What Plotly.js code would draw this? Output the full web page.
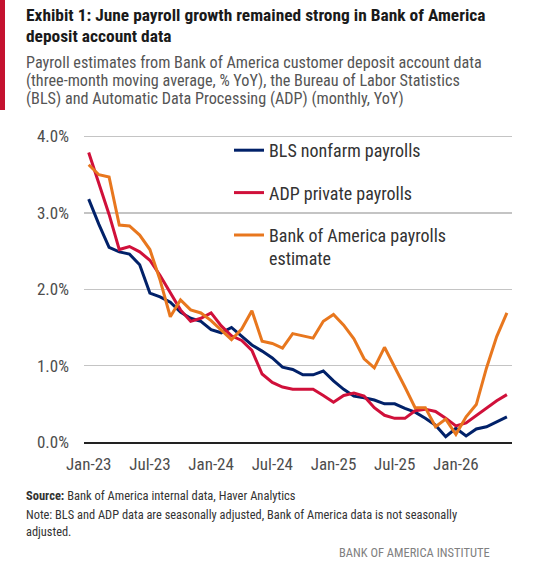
<!DOCTYPE html>
<html>
<head>
<meta charset="utf-8">
<script src="https://cdn.plot.ly/plotly-3.0.1.min.js"></script>
<style>
  html, body { margin: 0; padding: 0; background: #fff; }
  #chart { width: 550px; height: 566px; }
</style>
</head>
<body>
<div id="chart"></div>
<script>
// ---- Data ----
const months = [
  'Jan-23','Feb-23','Mar-23','Apr-23','May-23','Jun-23','Jul-23','Aug-23','Sep-23','Oct-23','Nov-23','Dec-23',
  'Jan-24','Feb-24','Mar-24','Apr-24','May-24','Jun-24','Jul-24','Aug-24','Sep-24','Oct-24','Nov-24','Dec-24',
  'Jan-25','Feb-25','Mar-25','Apr-25','May-25','Jun-25','Jul-25','Aug-25','Sep-25','Oct-25','Nov-25','Dec-25',
  'Jan-26','Feb-26','Mar-26','Apr-26','May-26','Jun-26'
];
const blsNonfarm = [
  3.18, 2.85, 2.55, 2.49, 2.46, 2.32, 1.95, 1.90, 1.83, 1.70, 1.62, 1.58,
  1.47, 1.43, 1.50, 1.38, 1.27, 1.19, 1.10, 0.98, 0.95, 0.88, 0.88, 0.93,
  0.80, 0.69, 0.60, 0.58, 0.55, 0.50, 0.50, 0.44, 0.39, 0.31, 0.22, 0.07,
  0.18, 0.08, 0.17, 0.20, 0.27, 0.33
];
const adpPrivate = [
  3.79, 3.38, 2.98, 2.52, 2.56, 2.49, 2.38, 2.18, 1.95, 1.73, 1.58, 1.62,
  1.69, 1.52, 1.39, 1.33, 1.20, 0.89, 0.78, 0.72, 0.69, 0.69, 0.69, 0.61,
  0.52, 0.61, 0.64, 0.60, 0.45, 0.35, 0.31, 0.31, 0.41, 0.43, 0.40, 0.31,
  0.21, 0.25, 0.35, 0.45, 0.54, 0.62
];
const bofaEstimate = [
  3.63, 3.50, 3.47, 2.84, 2.83, 2.71, 2.52, 2.12, 1.64, 1.86, 1.73, 1.69,
  1.59, 1.47, 1.34, 1.48, 1.72, 1.32, 1.29, 1.23, 1.42, 1.39, 1.36, 1.58,
  1.67, 1.53, 1.35, 1.09, 0.97, 1.24, 0.99, 0.72, 0.45, 0.45, 0.20, 0.30,
  0.10, 0.33, 0.49, 0.97, 1.38, 1.69
];
const seriesNames = ['BLS nonfarm payrolls', 'ADP private payrolls', 'Bank of America payrolls<br>estimate'];
const xTickLabels = ['Jan-23','Jul-23','Jan-24','Jul-24','Jan-25','Jul-25','Jan-26'];
const yTickValues = [0, 1, 2, 3, 4];
const yTickLabels = ['0.0%', '1.0%', '2.0%', '3.0%', '4.0%'];

// ---- Layout helpers (pixel -> paper) ----
const W = 550, H = 566;
const M = { l: 84, r: 38, t: 135, b: 124 };
const plotW = W - M.l - M.r, plotH = H - M.t - M.b;
const px = p => (p - M.l) / plotW;
const py = p => (H - M.b - p) / plotH;

const FONT = '"Liberation Sans Narrow", "Arial Narrow", "Roboto Condensed", "Liberation Sans", sans-serif';

const colors = ['#012169', '#d0103a', '#e8771e'];
const seriesData = [blsNonfarm, adpPrivate, bofaEstimate];

const traces = seriesData.map((vals, i) => ({
  type: 'scatter',
  mode: 'lines',
  x: months,
  y: vals,
  name: seriesNames[i],
  legendgroup: 'g' + i,
  line: { color: colors[i], width: 3 },
  hoverinfo: 'skip'
}));

const ann = (text, xp, yp, opts) => Object.assign({
  text: text, xref: 'paper', yref: 'paper', x: px(xp), y: py(yp),
  xanchor: 'left', yanchor: 'middle', showarrow: false, align: 'left'
}, opts);

const layout = {
  width: W, height: H,
  margin: M,
  paper_bgcolor: '#ffffff',
  plot_bgcolor: '#ffffff',
  font: { family: FONT, color: '#4d4d4d', size: 16 },
  showlegend: true,
  legend: {
    x: px(229), y: py(132), xanchor: 'left', yanchor: 'top',
    bgcolor: 'rgba(0,0,0,0)',
    font: { family: FONT, size: 18, color: '#333333' },
    tracegroupgap: 16,
    valign: 'top'
  },
  xaxis: {
    type: 'category',
    range: [-0.46, 41.5],
    tickvals: xTickLabels,
    ticktext: xTickLabels,
    showgrid: false,
    zeroline: false,
    showline: true,
    linecolor: '#222222',
    linewidth: 2,
    ticks: '',
    ticklabelstandoff: 6,
    tickfont: { family: FONT, size: 17, color: '#4d4d4d' },
    fixedrange: true
  },
  yaxis: {
    range: [0, 4.02],
    tickmode: 'array',
    tickvals: yTickValues,
    ticktext: yTickLabels,
    showgrid: true,
    gridcolor: '#c4c4c4',
    gridwidth: 1.5,
    zeroline: false,
    showline: false,
    ticks: '',
    ticklabelstandoff: 14,
    tickfont: { family: FONT, size: 17, color: '#4d4d4d' },
    fixedrange: true
  },
  shapes: [
    { type: 'rect', xref: 'paper', yref: 'paper', x0: px(0), x1: px(5), y0: py(110), y1: py(0),
      fillcolor: '#c4122f', line: { width: 0 } }
  ],
  annotations: [
    ann('<b>Exhibit 1: June payroll growth remained strong in Bank of America</b>', 24, 15, { font: { family: FONT, size: 17.4, color: '#1a1a1a' } }),
    ann('<b>deposit account data</b>', 24, 36, { font: { family: FONT, size: 17.4, color: '#1a1a1a' } }),
    ann('Payroll estimates from Bank of America customer deposit account data', 24, 63, { font: { family: FONT, size: 16.2, color: '#555555' } }),
    ann('(three-month moving average, % YoY), the Bureau of Labor Statistics', 24, 81, { font: { family: FONT, size: 16.2, color: '#555555' } }),
    ann('(BLS) and Automatic Data Processing (ADP) (monthly, YoY)', 24, 99, { font: { family: FONT, size: 16.2, color: '#555555' } }),
    ann('<b>Source:</b> Bank of America internal data, Haver Analytics', 24, 495, { font: { family: FONT, size: 12.5, color: '#333333' } }),
    ann('Note: BLS and ADP data are seasonally adjusted, Bank of America data is not seasonally', 24, 514, { font: { family: FONT, size: 12.4, color: '#333333' } }),
    ann('adjusted.', 24, 531, { font: { family: FONT, size: 12.4, color: '#333333' } }),
    ann('BANK OF AMERICA INSTITUTE', 492, 552, { xanchor: 'right', font: { family: FONT, size: 12.5, color: '#808080' } })
  ]
};

Plotly.newPlot('chart', traces, layout, { displayModeBar: false, staticPlot: true });
</script>
</body>
</html>
